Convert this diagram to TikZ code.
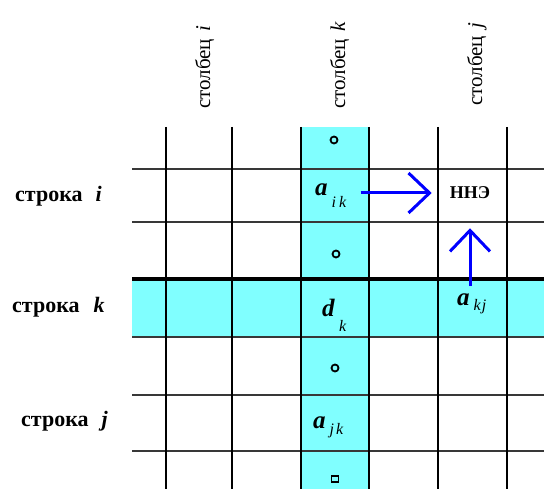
\documentclass[tikz,border=0pt]{standalone}
\usepackage{fontspec}
\setmainfont{Liberation Serif}
\usetikzlibrary{arrows.meta}
\definecolor{cyanf}{RGB}{128,255,255}
\definecolor{arrblue}{RGB}{0,0,255}
\newcommand\cellv[3]{{\fontsize{25}{25}\selectfont\textbf{\textit{#1}}}\hspace{4pt}\raisebox{-#3}{\fontsize{16}{16}\selectfont\textit{#2}}}
\begin{document}
\begin{tikzpicture}[x=1pt,y=-1pt,
 vline/.style={line width=2.7pt,black},
 hline/.style={line width=2.4pt,black!78},
 thickline/.style={line width=4pt,black},
 rowlab/.style={anchor=base west,inner sep=0,font=\fontsize{22}{24}\selectfont\bfseries},
 collab/.style={rotate=90,anchor=base west,inner sep=0,font=\fontsize{21}{24}\selectfont},
 cellval/.style={anchor=base west,inner sep=0},
 nnelab/.style={inner sep=0,font=\fontsize{18}{20}\selectfont\bfseries},
 dotmark/.style={circle,draw,line width=1.8pt,inner sep=0,minimum size=7pt},
 sqmark/.style={rectangle,draw,line width=1.8pt,inner sep=0,minimum width=7pt,minimum height=6pt},
 arr/.style={draw=arrblue,line width=3pt,-{Straight Barb[length=21pt,width=40pt]}}]
\useasboundingbox (0,0) rectangle (544,489);
% cyan bands
\fill[cyanf] (301,127) rectangle (369,489);
\fill[cyanf] (132,279) rectangle (544,337);
% grid
\foreach \y in {169,222,337,395,451} \draw[hline] (132,\y) -- (544,\y);
\foreach \x in {166,232,301,369,438,507} \draw[vline] (\x,127) -- (\x,489);
\draw[thickline] (132,279) -- (544,279);
% column labels
\node[collab] (ci) at (210,109) {столбец\hspace{7pt}\textit{i}};
\node[collab] (ck) at (345,109) {столбец\hspace{7pt}\textit{k}};
\node[collab] (cj) at (482,106) {столбец\hspace{7pt}\textit{j}};
% row labels
\node[rowlab] (ri) at (15,202) {строка\hspace{13pt}\textit{i}};
\node[rowlab] (rk) at (12,313) {строка\hspace{14pt}\textit{k}};
\node[rowlab] (rj) at (21,426) {строка\hspace{13pt}\textit{j}};
% marks in column k
\node[dotmark] (m1) at (334,140) {};
\node[dotmark] (m2) at (336,254) {};
\node[dotmark] (m3) at (335,368) {};
\node[sqmark] (m4) at (335,479) {};
% cell values
\node[cellval] (aik) at (315,196) {\cellv{a}{i\hspace{3pt}k}{12pt}};
\node[cellval] (dk) at (322,317) {\cellv{d}{k}{14pt}};
\node[cellval] (akj) at (457,306) {\cellv{a}{k\hspace{1pt}j}{5pt}};
\node[cellval] (ajk) at (313,428) {\cellv{a}{j\hspace{2pt}k}{6pt}};
\node[nnelab] (nne) at (470,193) {ННЭ};
% arrows
\draw[arr, shorten <=14pt, shorten >=18pt] (aik.east |- nne.west) -- (nne.west);
\draw[arr, shorten <=8pt, shorten >=29pt] (akj.north -| nne.south) -- (nne.south);
\end{tikzpicture}
\end{document}
